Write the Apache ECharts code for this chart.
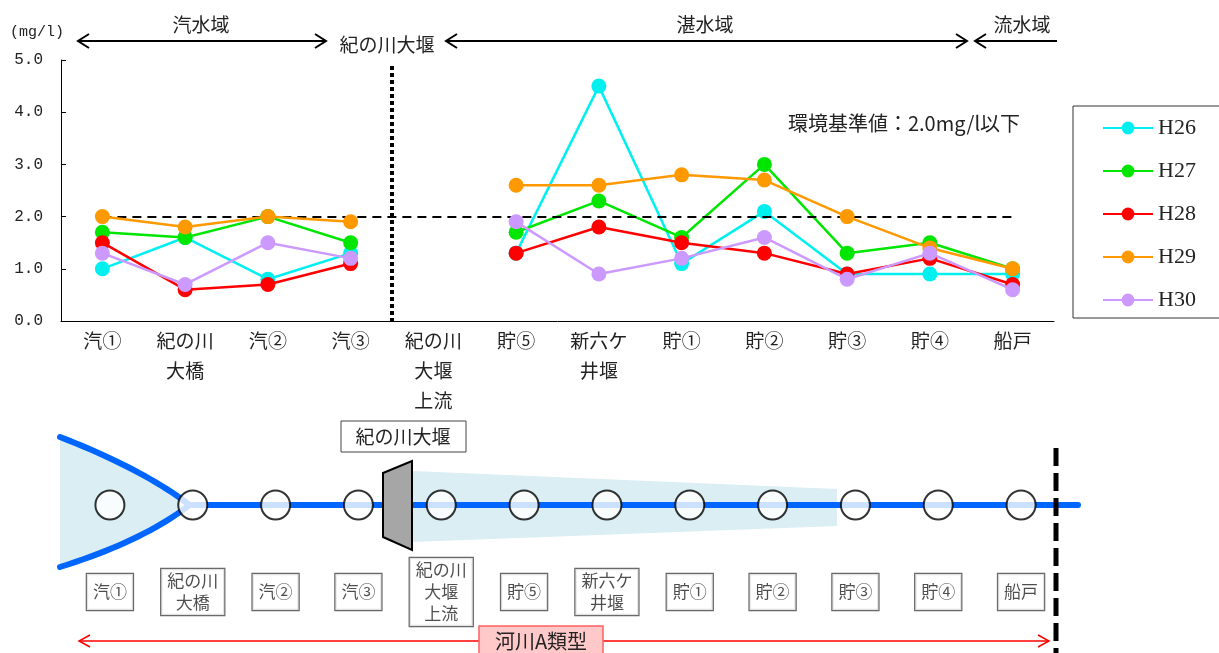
<!DOCTYPE html>
<html><head><meta charset="utf-8">
<script src="https://cdn.jsdelivr.net/npm/echarts@6/dist/echarts.min.js"></script>
<style>html,body{margin:0;padding:0;background:#fff}#c{width:1219px;height:653px}</style>
</head><body><div id="c"></div>
<script>
// ---- data ----
const categories = ['汽①','紀の川\n大橋','汽②','汽③','紀の川\n大堰\n上流','貯⑤','新六ケ\n井堰','貯①','貯②','貯③','貯④','船戸'];
const seriesNames = ['H26','H27','H28','H29','H30'];
const h26 = [1.0,1.6,0.8,1.3,null,1.3,4.5,1.1,2.1,0.9,0.9,0.9];
const h27 = [1.7,1.6,2.0,1.5,null,1.7,2.3,1.6,3.0,1.3,1.5,1.0];
const h28 = [1.5,0.6,0.7,1.1,null,1.3,1.8,1.5,1.3,0.9,1.2,0.7];
const h29 = [2.0,1.8,2.0,1.9,null,2.6,2.6,2.8,2.7,2.0,1.4,1.0];
const h30 = [1.3,0.7,1.5,1.2,null,1.9,0.9,1.2,1.6,0.8,1.3,0.6];
const standardValue = 2.0;
const yTicks = [0,1,2,3,4,5];
const colors = ['#00F0F0','#00E600','#FF0000','#FF9900','#CC99FF'];

const JP = "'Noto Sans CJK JP', sans-serif";
const MONO = "'Liberation Mono', monospace";
const SERIF = "'Liberation Serif', serif";

const chart = echarts.init(document.getElementById('c'), null, {renderer:'canvas'});

const values = [h26,h27,h28,h29,h30];
const lineSeries = values.map((d,i)=>({
  name: seriesNames[i], type:'line', data:d, xAxisIndex:0, yAxisIndex:0,
  symbol:'circle', symbolSize:15, connectNulls:false,
  lineStyle:{width:2.5, color:colors[i]}, itemStyle:{color:colors[i]},
  markLine: i===0 ? {
    silent:true, symbol:['none','none'], label:{show:false},
    lineStyle:{color:'#000', type:[9,6], width:2},
    data:[[{coord:[0, standardValue]},{coord:[categories.length-1, standardValue]}]]
  } : undefined,
  z: 3+i
}));

const stationSeries = {
  type:'scatter', xAxisIndex:1, yAxisIndex:1,
  data: categories.map((c,i)=>{
    const lines = c.split('\n').length;
    return {value:[i,0], label:{padding: lines===1 ? [7,6] : [1,6]}};
  }),
  symbol:'circle', symbolSize:29,
  itemStyle:{color:'#fff', borderColor:'#000', borderWidth:2},
  label:{show:true, position:'inside', offset:[0,87],
    formatter:p=>categories[p.dataIndex],
    fontFamily:JP, fontSize:17, lineHeight:22, color:'#222',
    textBorderWidth:0, textBorderColor:'transparent',
    backgroundColor:'#fff', borderColor:'#444', borderWidth:1.2},
  z:5, silent:true
};

chart.setOption({
  animation:false,
  backgroundColor:'#fff',
  grid:[
    {left:61, right:165, top:60, bottom:332},
    {left:68.5, right:156.5, top:455, height:100}
  ],
  xAxis:[
    {type:'category', data:categories, gridIndex:0, boundaryGap:true,
     axisLine:{lineStyle:{color:'#000', width:1}},
     axisTick:{inside:true, length:5, lineStyle:{color:'#000'}},
     axisLabel:{fontFamily:JP, fontSize:19, lineHeight:30, color:'#222', margin:5, interval:0},
     splitLine:{show:false}},
    {type:'category', data:categories, gridIndex:1, show:false, boundaryGap:true}
  ],
  yAxis:[
    {type:'value', gridIndex:0, min:yTicks[0], max:yTicks[yTicks.length-1], interval:1,
     axisLine:{show:true, lineStyle:{color:'#000', width:1}},
     axisTick:{show:true, inside:true, length:5, lineStyle:{color:'#000'}},
     axisLabel:{fontFamily:MONO, fontSize:16, color:'#222', margin:18, formatter:v=>v.toFixed(1)},
     splitLine:{show:false}},
    {type:'value', gridIndex:1, min:-1, max:1, show:false}
  ],
  legend:{
    orient:'vertical', left:1097, top:112, itemWidth:50, itemHeight:16, itemGap:21,
    data:seriesNames, textStyle:{fontFamily:SERIF, fontSize:22, color:'#222'}, selectedMode:false
  },
  series: lineSeries.concat([stationSeries])
});

// ---- decorations ----
const g = [];
function line(x1,y1,x2,y2,stroke,w,dash){
  g.push({type:'line', silent:true, shape:{x1,y1,x2,y2}, style:{stroke, lineWidth:w, lineDash:dash||null}});
}
function head(x,y,dir,stroke,w,len,half){
  g.push({type:'polyline', silent:true, shape:{points:[[x+dir*len,y-half],[x,y],[x+dir*len,y+half]]},
    style:{stroke, lineWidth:w, fill:null}});
}
function text(t,x,y,size,font,align,fill){
  g.push({type:'text', silent:true, style:{text:t, x, y, fontSize:size, fontFamily:font||JP,
    textAlign:align||'center', textVerticalAlign:'middle', fill:fill||'#222'}, z:10});
}
function rect(x,y,w,h,fill,stroke,lw){
  g.push({type:'rect', silent:true, shape:{x,y,width:w,height:h}, style:{fill, stroke, lineWidth:lw||1}});
}

// top annotations
text('(mg/l)', 10, 32, 15, MONO, 'left');
line(78,41,326,41,'#000',2); head(78,41,1,'#000',2,11,7); head(326,41,-1,'#000',2,11,7);
text('汽水域', 201, 25, 19);
text('紀の川大堰', 387, 45, 19);
line(446,41,967,41,'#000',2); head(446,41,1,'#000',2,11,7); head(967,41,-1,'#000',2,11,7);
text('湛水域', 705, 25, 19);
line(975,41,1057,41,'#000',2); head(975,41,1,'#000',2,11,7);
text('流水域', 1022, 25, 19);
text('環境基準値：2.0mg/l以下', 904, 123, 20);

// vertical dotted divider between 汽③ and 紀の川大堰上流
const xa = chart.convertToPixel({xAxisIndex:0}, categories[3]);
const xb = chart.convertToPixel({xAxisIndex:0}, categories[4]);
const yTop = chart.convertToPixel({yAxisIndex:0}, 5);
const yBot = chart.convertToPixel({yAxisIndex:0}, 0);
line((xa+xb)/2, yTop+6, (xa+xb)/2, yBot, '#000', 4, [4,3]);

// legend frame
rect(1073,106,150,212,null,'#333',1);

// river diagram
const fillBlue = '#DAEEF3';
function quad(p0,c,p1,n){const pts=[];for(let i=0;i<=n;i++){const t=i/n;
  pts.push([(1-t)*(1-t)*p0[0]+2*(1-t)*t*c[0]+t*t*p1[0],(1-t)*(1-t)*p0[1]+2*(1-t)*t*c[1]+t*t*p1[1]]);}return pts;}
const topCurve = quad([60,437],[140,468],[187,503],20);
const botCurve = quad([187,507],[140,542],[60,567],20);
g.push({type:'polygon', silent:true, shape:{points:topCurve.concat(botCurve)}, style:{fill:fillBlue}});
g.push({type:'polygon', silent:true, shape:{points:[[412,471],[837,489],[837,526],[412,542]]}, style:{fill:fillBlue}});
g.push({type:'polyline', silent:true, shape:{points:topCurve}, style:{stroke:'#0066FF', lineWidth:6, lineCap:'round', fill:null}});
g.push({type:'polyline', silent:true, shape:{points:botCurve}, style:{stroke:'#0066FF', lineWidth:6, lineCap:'round', fill:null}});
g.push({type:'line', silent:true, shape:{x1:187,y1:505,x2:1078,y2:505}, style:{stroke:'#0066FF', lineWidth:6, lineCap:'round'}});
g.push({type:'polygon', silent:true, shape:{points:[[383,473],[412,461],[412,550],[383,537]]},
  style:{fill:'#A6A6A6', stroke:'#000', lineWidth:2}, z:1});
rect(341,421,125,31,'#fff','#444',1);
text('紀の川大堰', 403, 437, 19);

// right boundary dashed line
line(1056,448,1056,653,'#000',5,[18,7]);

// red range arrow
line(79,641,1049,641,'#FF0000',1.5);
head(79,641,1,'#FF0000',1.5,11,6); head(1049,641,-1,'#FF0000',1.5,11,6);
rect(479,626,124,40,'#FFC9C9','#FF6060',1.5);
text('河川A類型', 541, 641, 20);

chart.setOption({graphic:{elements:g}});
</script>
</body></html>
